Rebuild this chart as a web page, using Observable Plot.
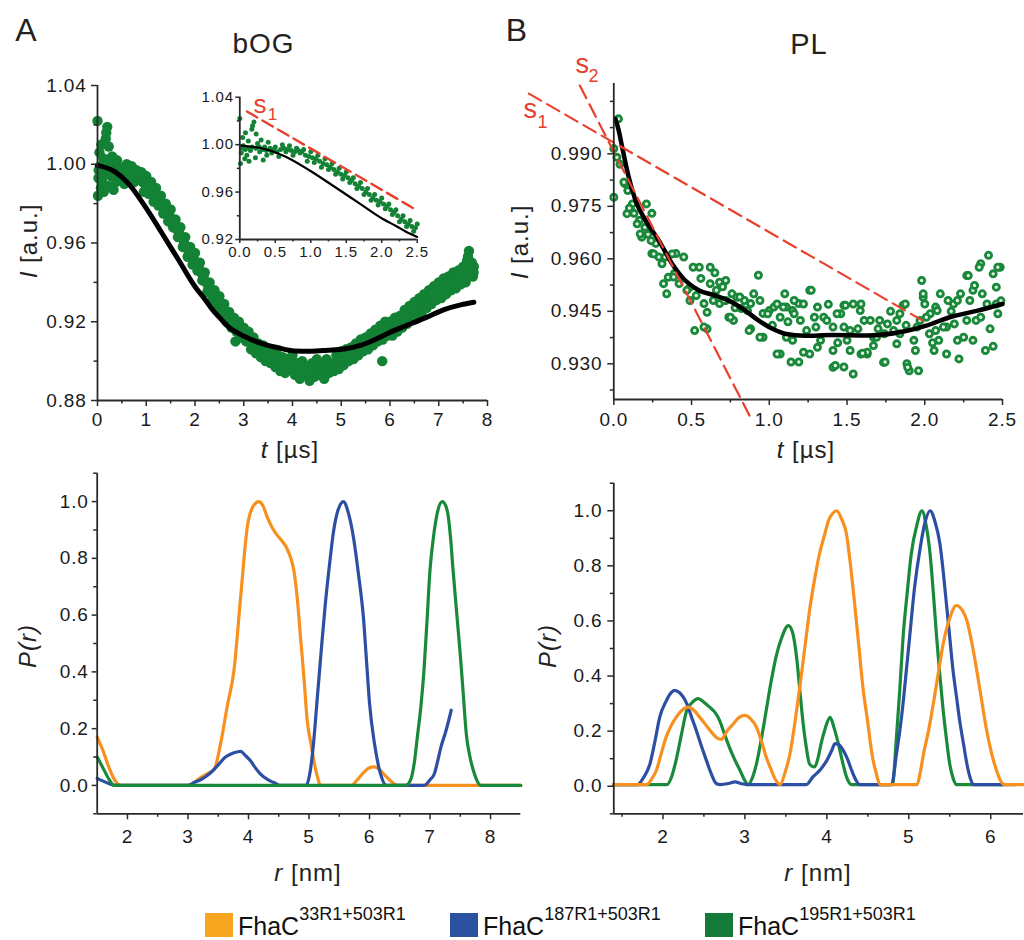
<!DOCTYPE html>
<html><head><meta charset="utf-8">
<script src="https://cdn.jsdelivr.net/npm/d3@7"></script>
<script src="https://cdn.jsdelivr.net/npm/@observablehq/plot@0.6"></script>
<style>
html,body{margin:0;padding:0;background:#fff;}
#fig{position:relative;width:1024px;height:940px;overflow:hidden;font-family:"Liberation Sans",Arial,Helvetica,sans-serif;color:#222;background:#fff;}
#fig .p{position:absolute;}
#fig svg{overflow:visible;}
.lbl{position:absolute;white-space:nowrap;line-height:1;letter-spacing:1px;}
[aria-label$="tick label"]{letter-spacing:0.8px;}
.sw{position:absolute;width:28px;height:24px;}
.lt{position:absolute;white-space:nowrap;line-height:0.9;font-size:25px;color:#111;}
.lt .sup{font-size:18px;position:relative;top:-15px;}
</style></head>
<body><div id="fig"></div>
<script>
// ---------------- DATA ----------------
// Panel A (bOG) DEER trace: [t (µs), I (a.u.)]
const bogPoints = [
[0.00,1.022],[0.01,0.984],[0.02,0.993],[0.04,1.006],[0.05,0.999],[0.07,0.988],[0.08,1.010],[0.10,0.991],[0.12,1.003],[0.13,0.986],[0.15,0.995],[0.17,1.013],[0.18,1.016],[0.20,1.019],[0.22,0.989],[0.23,1.009],[0.25,1.001],[0.28,0.994],[0.30,1.004],[0.33,0.987],[0.35,0.998],[0.38,0.991],[0.40,1.002],[0.45,0.993],
[0.50,0.998],[0.55,0.990],[0.60,1.000],[0.65,0.994],[0.70,0.999],[0.75,0.991],[0.80,0.997],[0.85,0.993],[0.90,0.996],[0.95,0.986],
[1.00,0.994],[1.05,0.985],[1.10,0.991],[1.15,0.981],[1.20,0.988],[1.25,0.979],[1.30,0.984],[1.35,0.975],[1.40,0.980],[1.45,0.971],
[1.50,0.977],[1.55,0.968],[1.60,0.972],[1.65,0.963],[1.70,0.968],[1.75,0.958],[1.80,0.963],[1.85,0.953],[1.90,0.958],[1.95,0.949],
[2.00,0.955],[2.05,0.946],[2.10,0.950],[2.15,0.941],[2.20,0.945],[2.25,0.935],[2.30,0.940],[2.35,0.931],[2.40,0.936],[2.45,0.927],
[2.50,0.933],[2.55,0.924],[2.60,0.929],[2.65,0.920],[2.70,0.925],[2.75,0.917],[2.80,0.922],[2.83,0.910],[2.85,0.915],[2.90,0.920],[2.95,0.912],
[3.00,0.917],[3.05,0.910],[3.10,0.915],[3.15,0.906],[3.20,0.912],[3.25,0.904],[3.30,0.909],[3.35,0.902],[3.40,0.908],[3.45,0.900],
[3.50,0.906],[3.55,0.899],[3.60,0.905],[3.65,0.897],[3.70,0.903],[3.75,0.895],[3.80,0.902],[3.85,0.894],[3.90,0.901],[3.95,0.896],
[4.00,0.903],[4.05,0.893],[4.10,0.899],[4.15,0.891],[4.20,0.900],[4.25,0.893],[4.30,0.897],[4.35,0.890],[4.40,0.899],[4.45,0.892],
[4.50,0.901],[4.55,0.893],[4.60,0.898],[4.65,0.891],[4.70,0.901],[4.75,0.894],[4.80,0.899],[4.85,0.895],[4.90,0.903],[4.95,0.896],
[5.00,0.905],[5.05,0.898],[5.10,0.906],[5.15,0.900],[5.20,0.907],[5.25,0.901],[5.30,0.909],[5.35,0.903],[5.40,0.911],[5.45,0.905],
[5.50,0.912],[5.55,0.906],[5.60,0.914],[5.65,0.908],[5.70,0.916],[5.75,0.910],[5.80,0.918],[5.84,0.900],[5.85,0.911],[5.90,0.920],[5.95,0.913],
[6.00,0.920],[6.05,0.913],[6.10,0.922],[6.15,0.915],[6.20,0.923],[6.25,0.917],[6.30,0.926],[6.35,0.919],[6.40,0.928],[6.45,0.921],
[6.50,0.930],[6.55,0.922],[6.60,0.932],[6.65,0.925],[6.70,0.934],[6.75,0.927],[6.80,0.936],[6.85,0.929],[6.90,0.938],[6.95,0.931],
[7.00,0.940],[7.05,0.932],[7.10,0.942],[7.15,0.934],[7.20,0.943],[7.25,0.936],[7.30,0.945],[7.35,0.937],[7.40,0.946],[7.45,0.939],
[7.50,0.948],[7.55,0.940],[7.58,0.951],[7.60,0.953],[7.62,0.956],[7.65,0.944],[7.68,0.950],[7.70,0.943],[7.72,0.948]
];
// band-centre points of the same trace
const bogPointsMid = [
[0.025,0.997],[0.075,0.996],[0.125,0.997],[0.175,0.998],[0.225,0.997],[0.275,0.998],[0.325,0.996],[0.375,0.995],[0.425,0.997],[0.475,0.996],
[0.525,0.994],[0.575,0.996],[0.625,0.997],[0.675,0.996],[0.725,0.995],[0.775,0.994],[0.825,0.995],[0.875,0.994],[0.925,0.991],[0.975,0.990],
[1.025,0.989],[1.075,0.988],[1.125,0.986],[1.175,0.984],[1.225,0.983],[1.275,0.981],[1.325,0.979],[1.375,0.977],[1.425,0.975],[1.475,0.974],
[1.525,0.972],[1.575,0.970],[1.625,0.967],[1.675,0.965],[1.725,0.963],[1.775,0.960],[1.825,0.958],[1.875,0.955],[1.925,0.953],[1.975,0.952],
[2.025,0.950],[2.075,0.948],[2.125,0.945],[2.175,0.943],[2.225,0.940],[2.275,0.937],[2.325,0.935],[2.375,0.933],[2.425,0.931],[2.475,0.930],
[2.525,0.928],[2.575,0.926],[2.625,0.924],[2.675,0.922],[2.725,0.921],[2.775,0.919],[2.825,0.918],[2.875,0.917],[2.925,0.916],[2.975,0.914],
[3.025,0.913],[3.075,0.912],[3.125,0.910],[3.175,0.909],[3.225,0.908],[3.275,0.906],[3.325,0.905],[3.375,0.904],[3.425,0.904],[3.475,0.903],
[3.525,0.902],[3.575,0.902],[3.625,0.901],[3.675,0.900],[3.725,0.899],[3.775,0.898],[3.825,0.898],[3.875,0.897],[3.925,0.898],[3.975,0.899],
[4.025,0.898],[4.075,0.896],[4.125,0.895],[4.175,0.896],[4.225,0.897],[4.275,0.895],[4.325,0.894],[4.375,0.895],[4.425,0.896],[4.475,0.897],
[4.525,0.897],[4.575,0.896],[4.625,0.895],[4.675,0.896],[4.725,0.897],[4.775,0.897],[4.825,0.897],[4.875,0.899],[4.925,0.900],[4.975,0.900],
[5.025,0.901],[5.075,0.902],[5.125,0.903],[5.175,0.904],[5.225,0.904],[5.275,0.905],[5.325,0.906],[5.375,0.907],[5.425,0.908],[5.475,0.909],
[5.525,0.909],[5.575,0.910],[5.625,0.911],[5.675,0.912],[5.725,0.913],[5.775,0.914],[5.825,0.915],[5.875,0.916],[5.925,0.916],[5.975,0.917],
[6.025,0.917],[6.075,0.918],[6.125,0.919],[6.175,0.919],[6.225,0.920],[6.275,0.922],[6.325,0.923],[6.375,0.924],[6.425,0.925],[6.475,0.926],
[6.525,0.926],[6.575,0.927],[6.625,0.929],[6.675,0.930],[6.725,0.931],[6.775,0.932],[6.825,0.933],[6.875,0.934],[6.925,0.935],[6.975,0.936],
[7.025,0.936],[7.075,0.937],[7.125,0.938],[7.175,0.939],[7.225,0.940],[7.275,0.941],[7.325,0.941],[7.375,0.942],[7.425,0.943],[7.475,0.944],
[7.525,0.944],[7.575,0.946],[7.625,0.948],[7.675,0.947],[7.715,0.945]
];
const bogFit = [
[0,0.9994],[0.37,0.996],[0.64,0.990],[0.985,0.9782],[1.33,0.9647],[1.67,0.9511],[2.01,0.9375],[2.22,0.9308],[2.33,0.927],[2.5,0.9222],[2.68,0.9175],[3.02,0.9125],[3.36,0.909],[3.7,0.9068],[4.04,0.9052],[4.38,0.905],[4.72,0.9055],[5.06,0.9062],[5.39,0.908],[5.74,0.9115],[6.08,0.9155],[6.43,0.919],[6.77,0.9225],[7.11,0.9262],[7.45,0.9286],[7.72,0.9299]
];
// inset slope s1: [t, I]
const bogSlope1 = [[0.1,1.028],[2.5,0.9445]];

// Panel B (PL) DEER trace
const plPoints = [
[0.03,1.000],[0.00,0.9915],[0.02,0.989],[0.04,0.987],[0.00,0.9776],[0.07,0.9815],[0.09,0.9795],[0.11,0.9738],[0.13,0.973],[0.165,0.971],[0.20,0.969],[0.18,0.9662],[0.22,0.967],[0.245,0.973],[0.27,0.9644],[0.245,0.9615],[0.29,0.9605],[0.31,0.9586],[0.33,0.9605],[0.40,0.9615],[0.45,0.9605],[0.35,0.9547],[0.39,0.9558],[0.42,0.9529],[0.34,0.950],[0.49,0.9519],
[0.065,0.9819],[0.12,0.9757],[0.085,0.9729],[0.17,0.9671],[0.21,0.9757],[0.24,0.9652],[0.257,0.9614],[0.32,0.9529],[0.375,0.9614],[0.385,0.9548],[0.47,0.951],[0.15,0.9700],[0.10,0.9745],
[0.55,0.9576],[0.62,0.9576],[0.56,0.9544],[0.62,0.9529],[0.68,0.9533],[0.72,0.9538],[0.49,0.9481],[0.53,0.9495],[0.58,0.9472],[0.60,0.9447],[0.64,0.9481],[0.68,0.9472],[0.72,0.9481],[0.76,0.950],[0.79,0.949],[0.84,0.9481],[0.82,0.9458],[0.93,0.9553],[0.88,0.9472],[0.94,0.9481],[0.96,0.9444],[1.00,0.9452],[0.74,0.9433],[0.77,0.9424],[0.88,0.940],[0.52,0.9395],[0.60,0.940],[0.96,0.9376],[0.51,0.9576],[0.58,0.9405],[0.66,0.951],[0.71,0.9481],[0.75,0.9433],[0.81,0.9491],[0.86,0.9452],[0.87,0.9395],[0.99,0.9443],[0.94,0.9376],[0.70,0.9520],[0.78,0.9460],[0.90,0.9500],[0.65,0.9560],
[1.03,0.9462],[1.07,0.9433],[1.11,0.9462],[1.15,0.9452],[1.19,0.9472],[1.07,0.9328],[1.14,0.9305],[1.19,0.9305],[1.11,0.9376],[1.15,0.9367],[1.05,0.9471],[1.09,0.9462],[1.16,0.9481],[1.26,0.951],[1.31,0.9462],[1.16,0.9443],[1.20,0.9424],[1.05,0.9328],[1.22,0.9333],[1.31,0.9347],[1.35,0.9433],[1.41,0.9405],[1.46,0.9443],[1.48,0.9467],[1.41,0.929],[1.48,0.9291],[1.24,0.9395],[1.29,0.9433],[1.22,0.9471],[1.27,0.951],[1.26,0.9328],[1.425,0.9295],[1.37,0.9424],[1.33,0.9367],[1.30,0.9405],[1.436,0.9443],[1.41,0.9338],[1.02,0.9410],[1.12,0.9420],[1.38,0.9470],[1.44,0.9360],[1.10,0.9500],
[1.54,0.9471],[1.54,0.9271],[1.52,0.9338],[1.59,0.9328],[1.63,0.9328],[1.67,0.9376],[1.71,0.9424],[1.735,0.9304],[1.80,0.9395],[1.84,0.9443],[1.86,0.9467],[1.885,0.930],[1.90,0.928],[1.96,0.928],[1.93,0.9367],[1.98,0.9538],[1.99,0.949],[1.97,0.9424],[1.49,0.9467],[1.48,0.9405],[1.52,0.9395],[1.50,0.9367],[1.585,0.9452],[1.59,0.9471],[1.61,0.9424],[1.65,0.9424],[1.63,0.9333],[1.60,0.9330],[1.69,0.9376],[1.67,0.9352],[1.74,0.9386],[1.76,0.9414],[1.745,0.9305],[1.82,0.9424],[1.84,0.9386],[1.82,0.9357],[1.875,0.9471],[1.89,0.929],[1.95,0.9405],[1.94,0.9338],[1.99,0.950],[1.78,0.9450],[1.70,0.9400],[1.57,0.9400],[1.88,0.9410],
[2.035,0.9443],[2.03,0.9386],[2.07,0.9462],[2.09,0.9367],[2.14,0.9328],[2.14,0.9405],[2.185,0.9471],[2.23,0.950],[2.22,0.9314],[2.25,0.9376],[2.27,0.9552],[2.31,0.951],[2.33,0.9424],[2.36,0.9586],[2.39,0.9338],[2.41,0.961],[2.44,0.9557],[2.46,0.9519],[2.47,0.9443],[2.485,0.9576],[2.35,0.9576],[2.28,0.9552],[2.47,0.9576],[2.32,0.9524],[2.37,0.950],[2.10,0.950],[2.21,0.9481],[2.29,0.9481],[2.40,0.9471],[2.46,0.9471],[2.36,0.9433],[2.27,0.9424],[2.19,0.9414],[2.21,0.9367],[2.31,0.9367],[2.12,0.9405],[2.07,0.9395],[2.06,0.9338],[2.01,0.9433],[2.00,0.9471],[2.08,0.9452],[2.15,0.9481],[2.42,0.9400],[2.49,0.9480],[2.05,0.9360],[2.17,0.9450],[2.44,0.9350]
];
const plFit = [
[0.01,1.000],[0.03,0.997],[0.054,0.9919],[0.096,0.9833],[0.14,0.9767],[0.204,0.971],[0.29,0.9652],[0.375,0.9586],[0.46,0.9538],[0.546,0.951],[0.654,0.9495],[0.76,0.9476],[0.846,0.9452],[0.93,0.9424],[1.02,0.940],[1.10,0.9386],[1.23,0.938],[1.40,0.9382],[1.63,0.9381],[1.84,0.939],[2.01,0.9409],[2.16,0.9433],[2.34,0.9452],[2.5,0.9471]
];
const plSlope1 = [[-0.546,1.0072],[2.02,0.9415]];
const plSlope2 = [[-0.2185,1.0095],[0.8785,0.9147]];

// Distance distributions P(r): [r (nm), P]
const bogOrange = [[1.5,0.17],[1.6,0.12],[1.7,0.06],[1.8,0.015],[1.9,0],[2.5,0],[3.0,0],[3.1,0.01],[3.21,0.028],[3.35,0.045],[3.43,0.055],[3.54,0.148],[3.65,0.28],[3.76,0.405],[3.87,0.663],[3.98,0.91],[4.08,0.985],[4.17,1.0],[4.24,0.985],[4.31,0.945],[4.4,0.905],[4.48,0.88],[4.56,0.86],[4.64,0.833],[4.7,0.8],[4.75,0.757],[4.81,0.65],[4.86,0.522],[4.92,0.37],[4.97,0.229],[5.03,0.15],[5.08,0.088],[5.14,0.03],[5.19,0],[5.7,0],[5.8,0.02],[5.9,0.045],[6.0,0.062],[6.08,0.065],[6.17,0.055],[6.28,0.03],[6.38,0.01],[6.45,0],[8.5,0]];
const bogBlue = [[1.5,0.025],[1.6,0.015],[1.7,0.006],[1.8,0],[3.0,0],[3.1,0.01],[3.21,0.02],[3.35,0.04],[3.49,0.07],[3.62,0.1],[3.76,0.115],[3.87,0.12],[3.95,0.105],[4.04,0.085],[4.12,0.06],[4.2,0.04],[4.32,0.02],[4.42,0.01],[4.53,0],[4.95,0],[5.02,0.05],[5.08,0.16],[5.13,0.29],[5.2,0.47],[5.27,0.64],[5.34,0.78],[5.4,0.887],[5.48,0.97],[5.57,1.0],[5.65,0.96],[5.73,0.88],[5.82,0.74],[5.9,0.59],[5.95,0.44],[6.0,0.29],[6.08,0.15],[6.17,0.05],[6.28,0],[6.9,0],[7.0,0.02],[7.07,0.04],[7.12,0.08],[7.18,0.135],[7.26,0.19],[7.35,0.265]];
const bogGreen = [[1.5,0.1],[1.6,0.06],[1.7,0.02],[1.78,0],[6.6,0],[6.68,0.02],[6.74,0.08],[6.79,0.17],[6.85,0.28],[6.9,0.405],[6.95,0.58],[7.0,0.76],[7.06,0.88],[7.12,0.96],[7.2,1.0],[7.26,0.985],[7.3,0.95],[7.34,0.87],[7.38,0.76],[7.44,0.61],[7.5,0.46],[7.55,0.32],[7.6,0.18],[7.66,0.1],[7.72,0.05],[7.78,0.015],[7.83,0],[8.5,0]];

const plBlue = [[1.4,0.006],[1.69,0.006],[1.76,0.03],[1.84,0.08],[1.9,0.16],[1.96,0.25],[2.04,0.31],[2.1,0.34],[2.14,0.348],[2.2,0.34],[2.29,0.30],[2.35,0.25],[2.41,0.2],[2.47,0.145],[2.53,0.094],[2.59,0.045],[2.65,0.01],[2.7,0.006],[2.8,0.01],[2.88,0.016],[2.95,0.01],[3.02,0.006],[3.75,0.006],[3.83,0.034],[3.92,0.06],[4.0,0.094],[4.06,0.13],[4.1,0.155],[4.15,0.15],[4.2,0.13],[4.25,0.1],[4.3,0.06],[4.35,0.025],[4.4,0.006],[4.79,0.006],[4.85,0.118],[4.89,0.2],[4.93,0.3],[4.97,0.42],[5.01,0.54],[5.07,0.72],[5.14,0.867],[5.2,0.96],[5.26,1.0],[5.32,0.96],[5.38,0.88],[5.42,0.78],[5.46,0.66],[5.5,0.54],[5.54,0.42],[5.58,0.33],[5.62,0.24],[5.67,0.15],[5.71,0.08],[5.75,0.03],[5.79,0.006],[6.15,0.006]];
const plGreen = [[1.4,0.006],[2.05,0.006],[2.1,0.03],[2.16,0.094],[2.22,0.18],[2.29,0.275],[2.36,0.305],[2.43,0.318],[2.5,0.305],[2.57,0.287],[2.63,0.27],[2.69,0.24],[2.75,0.19],[2.81,0.142],[2.87,0.1],[2.94,0.058],[3.0,0.02],[3.04,0.006],[3.09,0.03],[3.14,0.08],[3.2,0.17],[3.26,0.275],[3.32,0.38],[3.38,0.47],[3.45,0.54],[3.53,0.583],[3.58,0.56],[3.63,0.47],[3.67,0.35],[3.71,0.23],[3.75,0.14],[3.79,0.08],[3.85,0.07],[3.89,0.1],[3.93,0.155],[3.98,0.21],[4.04,0.25],[4.09,0.21],[4.14,0.155],[4.19,0.09],[4.24,0.034],[4.3,0.006],[4.8,0.006],[4.85,0.18],[4.89,0.35],[4.93,0.54],[4.98,0.7],[5.03,0.843],[5.1,0.95],[5.16,1.0],[5.21,0.95],[5.26,0.843],[5.3,0.7],[5.34,0.54],[5.38,0.4],[5.42,0.275],[5.46,0.17],[5.5,0.08],[5.54,0.03],[5.58,0.006],[6.3,0.006]];
const plOrange = [[1.4,0.006],[1.8,0.006],[1.86,0.025],[1.92,0.058],[1.98,0.12],[2.04,0.18],[2.1,0.22],[2.16,0.25],[2.23,0.275],[2.31,0.287],[2.38,0.275],[2.45,0.25],[2.53,0.22],[2.61,0.19],[2.66,0.175],[2.71,0.17],[2.78,0.2],[2.86,0.227],[2.93,0.25],[3.0,0.257],[3.07,0.245],[3.14,0.215],[3.2,0.165],[3.26,0.106],[3.32,0.06],[3.38,0.02],[3.43,0.006],[3.49,0.05],[3.55,0.118],[3.61,0.23],[3.67,0.36],[3.73,0.5],[3.79,0.64],[3.85,0.75],[3.91,0.843],[3.97,0.91],[4.02,0.964],[4.07,0.99],[4.12,1.0],[4.18,0.97],[4.24,0.915],[4.29,0.8],[4.34,0.66],[4.39,0.51],[4.44,0.36],[4.5,0.23],[4.55,0.118],[4.6,0.05],[4.65,0.006],[5.1,0.006],[5.14,0.05],[5.18,0.118],[5.24,0.2],[5.3,0.3],[5.36,0.41],[5.42,0.517],[5.5,0.61],[5.58,0.656],[5.65,0.64],[5.71,0.60],[5.77,0.52],[5.83,0.42],[5.89,0.31],[5.95,0.203],[6.01,0.12],[6.07,0.058],[6.12,0.02],[6.17,0.006],[6.4,0.006]];

// Tick values
const aTopXMajor = [0,1,2,3,4,5,6,7,8];
const aTopXMinor = [0.5,1.5,2.5,3.5,4.5,5.5,6.5,7.5];
const aTopYMajor = [0.88,0.92,0.96,1.00,1.04];
const aTopYMinor = [0.90,0.94,0.98,1.02];
const insXMajor = [0,0.5,1,1.5,2,2.5];
const insXMinor = [0.25,0.75,1.25,1.75,2.25];
const insYMajor = [0.92,0.96,1.00,1.04];
const insYMinor = [0.94,0.98,1.02];
const bTopXMajor = [0,0.5,1,1.5,2,2.5];
const bTopXMinor = [0.25,0.75,1.25,1.75,2.25];
const bTopYMajor = [0.930,0.945,0.960,0.975,0.990];
const bTopYMinor = [0.9225,0.9375,0.9525,0.9675,0.9825,0.9975,1.005];
const aBotXMajor = [2,3,4,5,6,7,8];
const aBotXMinor = [2.5,3.5,4.5,5.5,6.5,7.5];
const bBotXMajor = [2,3,4,5,6];
const bBotXMinor = [1.5,2.5,3.5,4.5,5.5];
const pYMajor = [0,0.2,0.4,0.6,0.8,1.0];
const pYMinor = [-0.1,0.1,0.3,0.5,0.7,0.9,1.1];

const legendItems = [
  {name:"FhaC", sup:"33R1+503R1", color:"#f8a51f"},
  {name:"FhaC", sup:"187R1+503R1", color:"#2b52a1"},
  {name:"FhaC", sup:"195R1+503R1", color:"#137b37"}
];

// ---------------- STYLE ----------------
const FONT = '"Liberation Sans", Arial, Helvetica, sans-serif';
const INK = "#2a2a2a";
const ORANGE = "#f7901e", BLUE = "#2c4ea3", GREEN = "#19893a";
const DOTGREEN = "#138235", RED = "#e8402c";

const fig = document.getElementById("fig");
function place(node, left, top) {
  const d = document.createElement("div");
  d.className = "p"; d.style.left = left + "px"; d.style.top = top + "px";
  d.appendChild(node); fig.appendChild(d);
}
function axes(o) {
  const ms = o.minorSize ?? 3.5;
  return [
    Plot.ruleX([o.x0], {stroke: INK, strokeWidth: 1.8}),
    Plot.ruleY([o.y0], {stroke: INK, strokeWidth: 1.8}),
    Plot.axisX(o.xMajor, {tickSize: o.xSize ?? 6, tickPadding: o.xPad ?? 6, tickFormat: o.xFmt, fontSize: o.fs, label: null, stroke: INK, fill: "#1a1a1a", strokeWidth: 1.5}),
    Plot.axisX(o.xMinor, {tickSize: ms, tickFormat: () => "", label: null, stroke: INK, strokeWidth: 1.5}),
    Plot.axisY(o.yMajor, {tickSize: o.ySize ?? 6, tickPadding: o.yPad ?? 5, tickFormat: o.yFmt, fontSize: o.fs, label: null, stroke: INK, fill: "#1a1a1a", strokeWidth: 1.5}),
    Plot.axisY(o.yMinor, {tickSize: ms, tickFormat: () => "", label: null, stroke: INK, strokeWidth: 1.5})
  ];
}
const baseStyle = {background: "transparent", fontFamily: FONT, overflow: "visible", color: INK};
const allBog = bogPoints.concat(bogPointsMid);

// ---------------- PANEL A TOP ----------------
place(Plot.plot({
  width: 512, height: 420, marginLeft: 97, marginRight: 25, marginTop: 25, marginBottom: 80,
  style: baseStyle,
  x: {domain: [0, 8], axis: null}, y: {domain: [0.88, 1.04], axis: null},
  marks: [
    Plot.dot(allBog, {x: d => d[0], y: d => d[1], r: 5.2, fill: DOTGREEN, stroke: "none"}),
    Plot.line(bogFit, {x: d => d[0], y: d => d[1], stroke: "#000", strokeWidth: 5, curve: "monotone-x"}),
    ...axes({x0: 0, y0: 0.88, xMajor: aTopXMajor, xMinor: aTopXMinor, yMajor: aTopYMajor, yMinor: aTopYMinor,
      xFmt: d => String(d), yFmt: d => d.toFixed(2), fs: 19, xPad: 6, yPad: 5})
  ]
}), 0, 60);

// ---------------- INSET ----------------
place(Plot.plot({
  width: 240, height: 185, marginLeft: 49.3, marginRight: 13.3, marginTop: 16.7, marginBottom: 26,
  style: baseStyle,
  x: {domain: [0, 2.5], axis: null}, y: {domain: [0.92, 1.04], axis: null},
  marks: [
    Plot.dot(allBog.filter(d => d[0] <= 2.5), {x: d => d[0], y: d => d[1], r: 2.5, fill: DOTGREEN, stroke: "none"}),
    Plot.line(bogFit.filter(d => d[0] <= 2.5), {x: d => d[0], y: d => d[1], stroke: "#000", strokeWidth: 2.2, curve: "monotone-x"}),
    Plot.line(bogSlope1, {x: d => d[0], y: d => d[1], stroke: RED, strokeWidth: 2.4, strokeDasharray: "12,6"}),
    Plot.text(["s"], {x: 0.193, y: 1.0263, text: d => d, fill: RED, fontSize: 26, textAnchor: "start", lineAnchor: "bottom"}),
    Plot.text(["1"], {x: 0.394, y: 1.0209, text: d => d, fill: RED, fontSize: 17, textAnchor: "start", lineAnchor: "bottom"}),
    ...axes({x0: 0, y0: 0.92, xMajor: insXMajor, xMinor: insXMinor, yMajor: insYMajor, yMinor: insYMinor,
      xFmt: d => d.toFixed(1), yFmt: d => d.toFixed(2), fs: 15, xSize: 4, xPad: 3, ySize: 4, yPad: 2, minorSize: 2.5})
  ]
}), 190, 80);

// ---------------- PANEL B TOP ----------------
place(Plot.plot({
  width: 512, height: 420, marginLeft: 101.3, marginRight: 22, marginTop: 23, marginBottom: 81,
  style: baseStyle,
  x: {domain: [0, 2.5], axis: null}, y: {domain: [0.9198, 1.0101], axis: null},
  marks: [
    Plot.dot(plPoints, {x: d => d[0], y: d => d[1], r: 3.1, fill: "#e4f2e4", stroke: "#1a883a", strokeWidth: 2.8}),
    Plot.line(plFit, {x: d => d[0], y: d => d[1], stroke: "#000", strokeWidth: 4.5, curve: "monotone-x"}),
    Plot.line(plSlope1, {x: d => d[0], y: d => d[1], stroke: RED, strokeWidth: 2.2, strokeDasharray: "14,7"}),
    Plot.line(plSlope2, {x: d => d[0], y: d => d[1], stroke: RED, strokeWidth: 2.2, strokeDasharray: "14,7"}),
    Plot.text(["s"], {x: -0.58, y: 1.0001, text: d => d, fill: RED, fontSize: 27, textAnchor: "start", lineAnchor: "bottom"}),
    Plot.text(["1"], {x: -0.49, y: 0.9975, text: d => d, fill: RED, fontSize: 18, textAnchor: "start", lineAnchor: "bottom"}),
    Plot.text(["s"], {x: -0.246, y: 1.0132, text: d => d, fill: RED, fontSize: 27, textAnchor: "start", lineAnchor: "bottom"}),
    Plot.text(["2"], {x: -0.163, y: 1.0104, text: d => d, fill: RED, fontSize: 18, textAnchor: "start", lineAnchor: "bottom"}),
    ...axes({x0: 0, y0: 0.9198, xMajor: bTopXMajor, xMinor: bTopXMinor, yMajor: bTopYMajor, yMinor: bTopYMinor,
      xFmt: d => d.toFixed(1), yFmt: d => d.toFixed(3), fs: 19, xPad: 7, yPad: 5.5})
  ]
}), 512, 60);

// ---------------- PANEL A BOTTOM ----------------
place(Plot.plot({
  width: 540, height: 430, marginLeft: 96.7, marginRight: 19.7, marginTop: 12.7, marginBottom: 76.7,
  style: baseStyle,
  x: {domain: [1.5, 8.5], axis: null}, y: {domain: [-0.1, 1.1], axis: null},
  marks: [
    Plot.line(bogOrange, {x: d => d[0], y: d => d[1], stroke: ORANGE, strokeWidth: 3.2, curve: "monotone-x"}),
    Plot.line(bogBlue, {x: d => d[0], y: d => d[1], stroke: BLUE, strokeWidth: 3.2, curve: "monotone-x"}),
    Plot.line(bogGreen, {x: d => d[0], y: d => d[1], stroke: GREEN, strokeWidth: 3.2, curve: "monotone-x"}),
    ...axes({x0: 1.5, y0: -0.1, xMajor: aBotXMajor, xMinor: aBotXMinor, yMajor: pYMajor, yMinor: pYMinor,
      xFmt: d => String(d), yFmt: d => d.toFixed(1), fs: 19, xSize: 6, xPad: 10, ySize: 5, yPad: 3.5})
  ]
}), 0, 460);

// ---------------- PANEL B BOTTOM ----------------
place(Plot.plot({
  width: 512, height: 430, marginLeft: 101.3, marginRight: 1, marginTop: 22.7, marginBottom: 76.7,
  style: baseStyle,
  x: {domain: [1.4, 6.4], axis: null}, y: {domain: [-0.1, 1.1], axis: null},
  marks: [
    Plot.line(plGreen, {x: d => d[0], y: d => d[1], stroke: GREEN, strokeWidth: 3.2, curve: "monotone-x"}),
    Plot.line(plBlue, {x: d => d[0], y: d => d[1], stroke: BLUE, strokeWidth: 3.2, curve: "monotone-x"}),
    Plot.line(plOrange, {x: d => d[0], y: d => d[1], stroke: ORANGE, strokeWidth: 3.2, curve: "monotone-x"}),
    ...axes({x0: 1.4, y0: -0.1, xMajor: bBotXMajor, xMinor: bBotXMinor, yMajor: pYMajor, yMinor: pYMinor,
      xFmt: d => String(d), yFmt: d => d.toFixed(1), fs: 19, xSize: 6, xPad: 10, ySize: 6, yPad: 5.5})
  ]
}), 512, 460);

// ---------------- TEXT LABELS ----------------
function label(html, x, y, size, rotate) {
  const s = document.createElement("div");
  s.className = "lbl";
  s.innerHTML = html;
  s.style.left = x + "px"; s.style.top = y + "px"; s.style.fontSize = size + "px";
  s.style.transform = "translate(-50%,-50%)" + (rotate ? " rotate(" + rotate + "deg)" : "");
  fig.appendChild(s);
}
label("A", 26.5, 30, 32);
label("B", 517, 30, 32);
label("bOG", 263.5, 44, 28);
label("PL", 809, 44, 29);
label("<i>I</i> [a.u.]", 29, 241, 24, -90);
label("<i>I</i> [a.u.]", 520, 242, 24, -90);
label("<i>t</i> [µs]", 290, 450, 24);
label("<i>t</i> [µs]", 806, 450, 24);
label("<i>P(r)</i>", 27.5, 646, 24, -90);
label("<i>P(r)</i>", 548, 646, 24, -90);
label("<i>r</i> [nm]", 308, 873, 24);
label("<i>r</i> [nm]", 818, 873, 24);

// ---------------- LEGEND ----------------
const legendX = [205, 450, 705];
legendItems.forEach((it, i) => {
  const sw = document.createElement("div");
  sw.className = "sw"; sw.style.left = legendX[i] + "px"; sw.style.top = "913px"; sw.style.background = it.color;
  fig.appendChild(sw);
  const t = document.createElement("div");
  t.className = "lt"; t.style.left = (legendX[i] + 33) + "px"; t.style.top = "915px";
  t.innerHTML = it.name + '<span class="sup">' + it.sup + '</span>';
  fig.appendChild(t);
});
</script>
</body></html>
